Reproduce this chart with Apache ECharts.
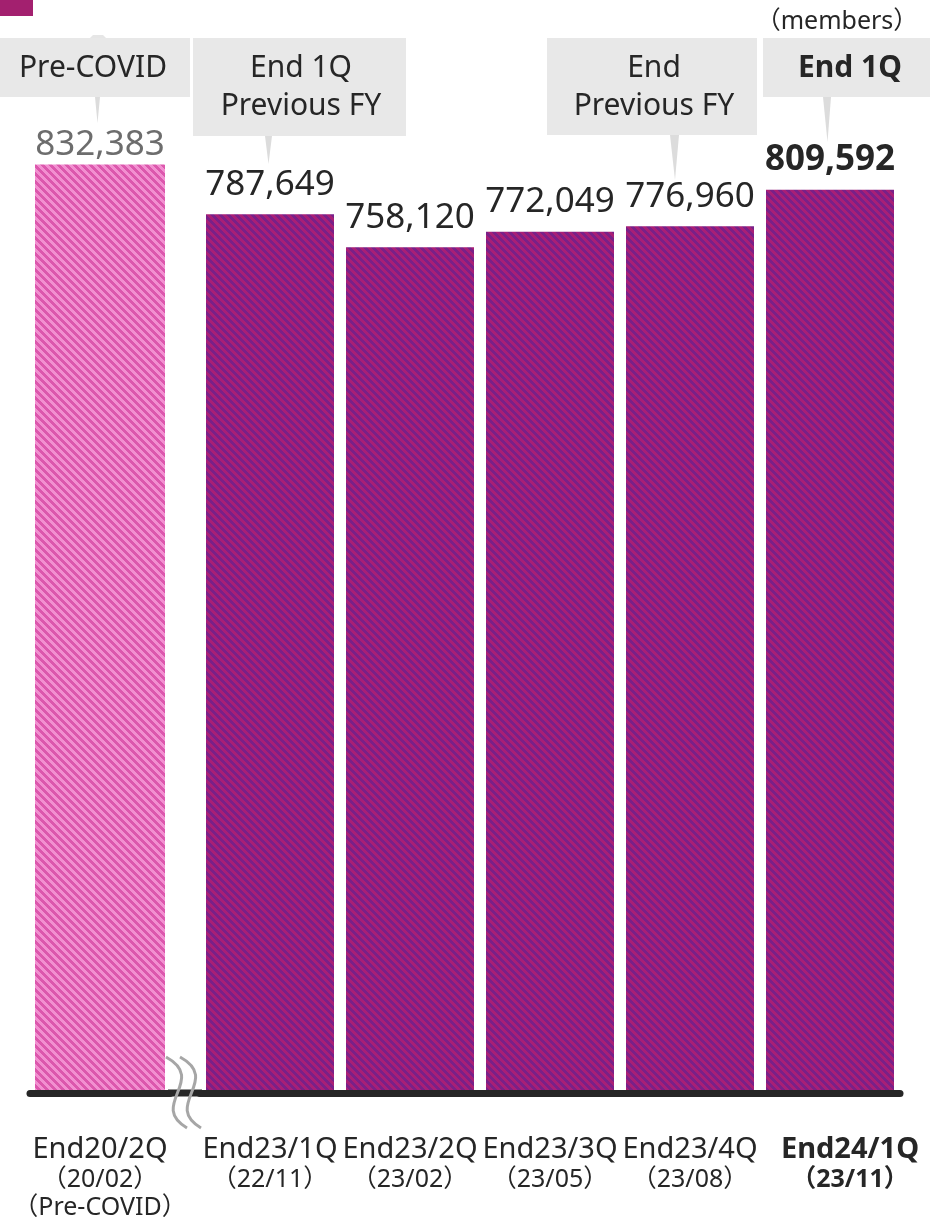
<!DOCTYPE html>
<html>
<head>
<meta charset="utf-8">
<script src="https://cdn.jsdelivr.net/npm/echarts@6/dist/echarts.min.js"></script>
<style>
html,body{margin:0;padding:0;background:#fff;}
#chart{width:930px;height:1226px;}
</style>
</head>
<body>
<div id="chart"></div>
<script>
// ---- data ----
const categories = ['End20/2Q', 'End23/1Q', 'End23/2Q', 'End23/3Q', 'End23/4Q', 'End24/1Q'];
const periods = ['（20/02）', '（22/11）', '（23/02）', '（23/05）', '（23/08）', '（23/11）'];
const notes = ['（Pre-COVID）', '', '', '', '', ''];
const values = [832383, 787649, 758120, 772049, 776960, 809592];
const calloutTexts = ['Pre-COVID', 'End 1Q\nPrevious FY', 'End\nPrevious FY', 'End 1Q'];
const unitText = '（members）';

// ---- styling helpers ----
const FONT = "'Noto Sans', 'Noto Sans CJK JP', sans-serif";
function makePattern(c1, c2) {
  const n = 8;
  const cv = document.createElement('canvas');
  cv.width = n; cv.height = n;
  const ctx = cv.getContext('2d');
  for (let x = 0; x < n; x++) {
    for (let y = 0; y < n; y++) {
      ctx.fillStyle = ((x - y + 2 * n) % n) < 4 ? c1 : c2;
      ctx.fillRect(x, y, 1, 1);
    }
  }
  return { image: cv, repeat: 'repeat' };
}
const pinkPattern = makePattern('#f28fd0', '#dc58ad');
const purplePattern = makePattern('#a81f76', '#7a2088');

function axisLabelFmt(idx, bold) {
  const a = bold ? 'ab' : 'a', b = bold ? 'bb' : 'b';
  let s = '{' + a + '|' + categories[idx] + '}\n{' + b + '|' + periods[idx] + '}';
  if (notes[idx]) s += '\n{' + b + '|' + notes[idx] + '}';
  return s;
}
const richStyles = {
  a: { fontSize: 29, color: '#262626', fontFamily: FONT, lineHeight: 33 },
  b: { fontSize: 25, color: '#262626', fontFamily: FONT, lineHeight: 28 },
  ab: { fontSize: 29, color: '#262626', fontFamily: FONT, fontWeight: 'bold', lineHeight: 33, padding: [0, 0, 0, 40] },
  bb: { fontSize: 25, color: '#262626', fontFamily: FONT, fontWeight: 'bold', lineHeight: 28, padding: [0, 0, 0, 40] }
};

const lastIdx = values.length - 1;
const axisLineStyle = { show: true, lineStyle: { color: '#262626', width: 7 } };

const chart = echarts.init(document.getElementById('chart'), null, { renderer: 'canvas' });

const option = {
  animation: false,
  backgroundColor: '#ffffff',
  grid: [
    { left: 30, width: 140, top: 89, bottom: 133 },
    { left: 200, width: 700, top: 89, bottom: 133 }
  ],
  xAxis: [
    {
      type: 'category', gridIndex: 0, data: categories.slice(0, 1), z: 5,
      axisLine: axisLineStyle, axisTick: { show: false },
      axisLabel: { interval: 0, margin: 40, formatter: (v, i) => axisLabelFmt(i, false), rich: richStyles }
    },
    {
      type: 'category', gridIndex: 1, data: categories.slice(1), z: 5,
      axisLine: axisLineStyle, axisTick: { show: false },
      axisLabel: { interval: 0, margin: 40, formatter: (v, i) => axisLabelFmt(i + 1, i + 1 === lastIdx), rich: richStyles }
    }
  ],
  yAxis: [
    { type: 'value', gridIndex: 0, min: 0, max: 900000, show: false },
    { type: 'value', gridIndex: 1, min: 0, max: 900000, show: false }
  ],
  series: [
    {
      type: 'bar', xAxisIndex: 0, yAxisIndex: 0, barWidth: 130,
      data: values.slice(0, 1),
      itemStyle: { color: pinkPattern },
      label: {
        show: true, position: 'top', distance: 2, fontSize: 35, color: '#6d6d6d', fontFamily: FONT,
        formatter: p => p.value.toLocaleString('en-US')
      }
    },
    {
      type: 'bar', xAxisIndex: 1, yAxisIndex: 1, barWidth: 128,
      data: values.slice(1).map((v, i) => (i + 1 === lastIdx
        ? { value: v, label: { fontWeight: 'bold', color: '#262626' } }
        : v)),
      itemStyle: { color: purplePattern },
      label: {
        show: true, position: 'top', distance: 12, fontSize: 35, color: '#262626', fontFamily: FONT,
        formatter: p => p.value.toLocaleString('en-US')
      }
    }
  ],
  graphic: [
    // corner marker
    { type: 'rect', shape: { x: 0, y: 0, width: 33, height: 16 }, style: { fill: '#a3206f' } },
    // unit
    { type: 'text', x: 837, y: 22, style: { text: unitText, font: '25px ' + FONT, fill: '#262626', textAlign: 'center', textVerticalAlign: 'middle' } },
    // callout boxes
    { type: 'polygon', shape: { points: [[90, 38], [106, 38], [103, 35], [93, 35]] }, style: { fill: '#e6e6e6' } },
    { type: 'rect', shape: { x: 0, y: 38, width: 190, height: 59 }, style: { fill: '#e8e8e8' } },
    { type: 'polygon', shape: { points: [[95, 97], [100, 97], [97.5, 123]] }, style: { fill: '#dcdcdc' } },
    { type: 'text', x: 93, y: 68, style: { text: calloutTexts[0], font: '30px ' + FONT, fill: '#262626', textAlign: 'center', textVerticalAlign: 'middle' } },

    { type: 'rect', shape: { x: 193, y: 38, width: 213, height: 98 }, style: { fill: '#e8e8e8' } },
    { type: 'polygon', shape: { points: [[265, 136], [272, 136], [268.5, 164]] }, style: { fill: '#dcdcdc' } },
    { type: 'text', x: 301, y: 87, style: { text: calloutTexts[1], font: '30px ' + FONT, lineHeight: 38, fill: '#262626', textAlign: 'center', textVerticalAlign: 'middle' } },

    { type: 'rect', shape: { x: 547, y: 38, width: 210, height: 97 }, style: { fill: '#e8e8e8' } },
    { type: 'polygon', shape: { points: [[670, 135], [679, 135], [675, 180]] }, style: { fill: '#dcdcdc' } },
    { type: 'text', x: 654, y: 87, style: { text: calloutTexts[2], font: '30px ' + FONT, lineHeight: 38, fill: '#262626', textAlign: 'center', textVerticalAlign: 'middle' } },

    { type: 'rect', shape: { x: 763, y: 38, width: 167, height: 59 }, style: { fill: '#e8e8e8' } },
    { type: 'polygon', shape: { points: [[823, 97], [831, 97], [827.5, 142]] }, style: { fill: '#dcdcdc' } },
    { type: 'text', x: 850, y: 68, style: { text: calloutTexts[3], font: 'bold 30px ' + FONT, fill: '#262626', textAlign: 'center', textVerticalAlign: 'middle' } },

    // axis gap filler and break mark
    { type: 'rect', z: 50, shape: { x: 168, y: 1089.5, width: 34, height: 7 }, style: { fill: '#262626' } },
    { type: 'bezierCurve', z: 100, shape: { x1: 166, y1: 1057, cpx1: 208, cpy1: 1080, cpx2: 148, cpy2: 1105, x2: 187, y2: 1128 }, style: { stroke: '#a6a6a6', lineWidth: 3, fill: null } },
    { type: 'bezierCurve', z: 100, shape: { x1: 180, y1: 1057, cpx1: 222, cpy1: 1080, cpx2: 162, cpy2: 1105, x2: 201, y2: 1128 }, style: { stroke: '#a6a6a6', lineWidth: 3, fill: null } }
  ]
};
chart.setOption(option);
</script>
</body>
</html>
